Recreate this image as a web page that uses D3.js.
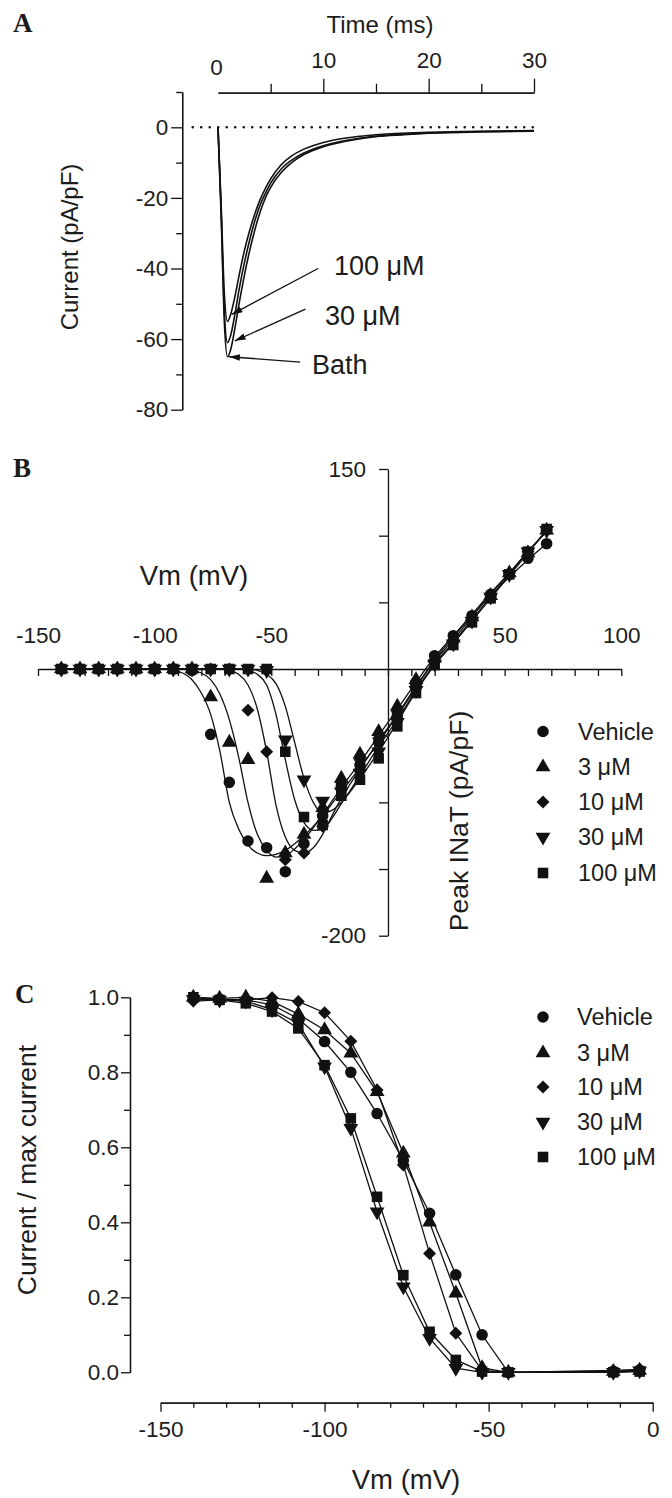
<!DOCTYPE html>
<html><head><meta charset="utf-8">
<script src="https://cdn.jsdelivr.net/npm/d3@7"></script>
<style>
body{margin:0;background:#fff}
</style>
</head><body>
<svg id="chart" width="672" height="1498"></svg>
<script>
// ---------------- DATA ----------------
// Panel A: current traces (time in ms, current in pA/pF)
const aTime   = [0,0.3,0.6,0.9,1.2,1.6,2,2.5,3,3.5,4,4.5,5,6,7,8,9,10,12,14,16,18,20,22,25,28,30];
const aBath   = [0,-25,-55,-65,-63,-57,-50,-42,-35,-29,-24,-20,-17,-12.8,-10,-8,-6.6,-5.5,-4,-3,-2.4,-2,-1.7,-1.5,-1.3,-1.2,-1.1];
const a30uM   = [0,-24,-52,-61,-59,-53,-46,-38.5,-32,-26.5,-22,-18.7,-15.8,-11.8,-9.3,-7.5,-6.2,-5.2,-3.8,-2.9,-2.3,-1.9,-1.6,-1.4,-1.2,-1.1,-1];
const a100uM  = [0,-22,-47,-55,-53,-48,-42,-35,-29.3,-24.5,-20.5,-17.3,-14.6,-10.6,-8.1,-6.4,-5.2,-4.3,-3.1,-2.4,-1.9,-1.6,-1.4,-1.3,-1.1,-1,-0.9];
const aLabels = ["100 μM","30 μM","Bath"];
const aArrowTip = [[1.3,-53],[1.6,-60.5],[1.05,-65]];   // time, current
const aArrowTail = [[9.5,-40],[8.3,-51.5],[7.8,-66.5]];
const aXTicks = [0,10,20,30];
const aXMinor = [5,15,25];
const aYTicks = [0,-20,-40,-60,-80];
const aYMinor = [10,-10,-30,-50,-70];

// Panel B: I-V relation
const seriesNames = ["Vehicle","3 μM","10 μM","30 μM","100 μM"];
const bVm = [-140,-132,-124,-116,-108,-100,-92,-84,-76,-68,-60,-52,-44,-36,-28,-20,-12,-4,4,12,20,28,36,44,52,60,68];
const bVehicle = [0,0,0,0,0,0,0,-1,-49,-85,-129,-134,-152,-131,-110,-88,-72,-55,-35,-10,10,25,40,56,71,83,94];
const b3uM     = [0,0,0,0,0,0,0,0,-21,-55,-68,-157,-138,-124,-104,-82,-64,-47,-28,-8,8,23,39,55,72,87,104];
const b10uM    = [0,0,0,0,0,0,0,0,0,0,-31,-62,-143,-138,-118,-85,-68,-52,-32,-12,6,21,38,55,72,88,104];
const b30uM    = [0,0,0,0,0,0,0,0,0,0,0,-1,-53,-83,-99,-92,-78,-62,-40,-16,4,19,36,54,71,88,104];
const b100uM   = [0,0,0,0,0,0,0,0,0,0,0,0,-62,-111,-117,-95,-83,-67,-43,-18,3,18,35,53,71,88,105];
// fitted curves of panel B
const bFitVm = [-140,-96,-92,-88,-84,-80,-76,-72,-68,-64,-60,-56,-52,-48,-44,-40,-36,-32,-28,-24,-20,-12,-4,4,12,20,28,36,44,52,60,68];
const bFitVehicle = [0,0,-1,-3,-8,-18,-34,-62,-100,-120,-132,-138,-140,-139,-136,-131,-125,-118,-110,-101,-92,-74,-55,-35,-14,7,24,40,55,69,82,94];
const bFit3uM     = [0,0,0,0,-1,-3,-8,-19,-38,-66,-100,-124,-136,-141,-140,-135,-128,-119,-109,-99,-89,-70,-50,-30,-10,9,25,41,57,72,88,103];
const bFit10uM    = [0,0,0,0,0,0,0,0,-1,-4,-12,-30,-62,-102,-126,-136,-138,-134,-124,-110,-97,-75,-54,-34,-13,6,22,39,56,72,88,103];
const bFit30uM    = [0,0,0,0,0,0,0,0,0,0,0,-1,-4,-11,-28,-55,-82,-100,-108,-106,-100,-82,-62,-40,-17,3,19,36,53,70,87,104];
const bFit100uM   = [0,0,0,0,0,0,0,0,0,0,-1,-4,-12,-34,-68,-98,-115,-121,-120,-112,-101,-80,-58,-38,-16,4,20,37,54,71,88,104];
const bXTicks = [-150,-140,-130,-120,-110,-100,-90,-80,-70,-60,-50,-40,-30,-20,-10,0,10,20,30,40,50,60,70,80,90,100];
const bXLabels = [-150,-100,-50,50,100];
const bYTicks = [150,100,50,-50,-100,-150,-200];
const bYLabels = [150,-200];

// Panel C: availability
const cVm = [-140,-132,-124,-116,-108,-100,-92,-84,-76,-68,-60,-52,-44,-12,-4];
const cVehicle = [1.0,0.995,0.993,0.98,0.943,0.882,0.80,0.69,0.565,0.424,0.26,0.10,0.0,0.003,0.006];
const c3uM     = [1.0,0.997,1.0,0.989,0.955,0.913,0.851,0.748,0.584,0.40,0.211,0.012,0.0,0.002,0.005];
const c10uM    = [0.99,0.993,0.993,0.999,0.989,0.959,0.883,0.753,0.553,0.317,0.104,0.005,0.0,0.005,0.008];
const c30uM    = [0.995,0.993,0.99,0.967,0.93,0.815,0.651,0.428,0.228,0.091,0.011,0.0,0.0,0.0,0.004];
const c100uM   = [1.0,0.993,0.984,0.962,0.917,0.819,0.677,0.468,0.259,0.108,0.033,0.002,0.0,0.0,0.002];
const cXTicks = [-150,-100,-50,0];
const cXMinor = [-140,-130,-120,-110,-90,-80,-70,-60,-40,-30,-20,-10];
const cYTicks = [0,0.2,0.4,0.6,0.8,1.0];
const cYMinor = [0.1,0.3,0.5,0.7,0.9];

// ---------------- HELPERS ----------------
const SANS = '"Liberation Sans",Arial,Helvetica,sans-serif';
const SERIF = '"Liberation Serif","Times New Roman",Times,serif';
const INK = "#111";
const TXT = "#1c1c1c";
const shapes = ["circle","triangle","diamond","triangleDown","square"];
function symPath(shape){
  if(shape==="circle") return d3.symbol(d3.symbolCircle,105)();
  if(shape==="triangle"||shape==="triangleDown") return d3.symbol(d3.symbolTriangle,95)();
  if(shape==="diamond") return d3.symbol(d3.symbolSquare,84)();
  return d3.symbol(d3.symbolSquare,112)();
}
function symRot(shape){ return shape==="diamond"?45:(shape==="triangleDown"?180:0); }
function marker(g,shape,x,y){
  g.append("path").attr("d",symPath(shape))
   .attr("transform",`translate(${x},${y}) rotate(${symRot(shape)})`)
   .attr("fill",INK);
}
function styleAxis(g,size){
  g.attr("font-size",size).style("font-family",SANS);
  g.selectAll("path.domain").attr("stroke",INK).attr("stroke-width",1.3);
  g.selectAll(".tick line").attr("stroke",INK).attr("stroke-width",1.3);
  g.selectAll(".tick text").attr("fill",TXT).style("font-family",SANS);
}
function label(g,x,y,size,t,opts={}){
  const el = g.append("text").attr("x",x).attr("y",y).attr("font-size",size)
    .style("font-family",opts.serif?SERIF:SANS).attr("fill",TXT).text(t);
  if(opts.anchor) el.attr("text-anchor",opts.anchor);
  if(opts.bold) el.attr("font-weight","bold");
  if(opts.central) el.attr("dominant-baseline","central");
  return el;
}
function vlabel(g,x,y,size,t){
  return g.append("text").attr("transform",`translate(${x},${y}) rotate(-90)`).attr("text-anchor","middle")
    .attr("dominant-baseline","central").attr("font-size",size).style("font-family",SANS).attr("fill",TXT).text(t);
}
const fmt = d => String(d);
const TICKFS = 22.5;

const svg = d3.select("#chart");
svg.append("rect").attr("width",672).attr("height",1498).attr("fill","#fff");

// ---------------- PANEL A ----------------
const xA = d3.scaleLinear().domain([0,30]).range([218,534]);
const yA = d3.scaleLinear().domain([-80,10]).range([409.7,92]);
const gA = svg.append("g");
const aYAxisX = xA(-3.4);
styleAxis(gA.append("g").attr("transform",`translate(${aYAxisX},0)`)
  .call(d3.axisLeft(yA).tickValues(aYMinor).tickSize(6).tickFormat("").tickSizeOuter(0)),TICKFS);
styleAxis(gA.append("g").attr("transform",`translate(${aYAxisX},0)`)
  .call(d3.axisLeft(yA).tickValues(aYTicks).tickSize(11).tickPadding(3).tickFormat(fmt).tickSizeOuter(0)),TICKFS);
const aTop = yA(10)+0.7;
styleAxis(gA.append("g").attr("transform",`translate(0,${aTop})`)
  .call(d3.axisTop(xA).tickValues(aXMinor).tickSize(9).tickFormat("").tickSizeOuter(0)),TICKFS);
const aMaj = gA.append("g").attr("transform",`translate(0,${aTop})`)
  .call(d3.axisTop(xA).tickValues(aXTicks).tickSize(14).tickPadding(11).tickFormat(fmt).tickSizeOuter(0));
styleAxis(aMaj,TICKFS);
aMaj.selectAll(".tick").filter(d=>d===0).select("line").remove();
aMaj.selectAll(".tick").filter(d=>d===0).select("text").attr("y",-18).attr("x",-2);

label(gA,380,33,24,"Time (ms)",{anchor:"middle"});
vlabel(gA,69,247,24,"Current (pA/pF)");
label(gA,13,32,27,"A",{serif:true,bold:true});

// zero dotted line
gA.append("line").attr("x1",xA(-2.4)).attr("x2",xA(30)).attr("y1",yA(0)).attr("y2",yA(0))
  .attr("stroke",INK).attr("stroke-width",2.6).attr("stroke-dasharray","0 8.5").attr("stroke-linecap","round");

const lineA = d3.line().x((d,i)=>xA(aTime[i])).y(d=>yA(d)).curve(d3.curveMonotoneX);
[aBath,a30uM,a100uM].forEach(arr=>{
  gA.append("path").attr("d",lineA(arr)).attr("fill","none").attr("stroke",INK).attr("stroke-width",1.6);
});
// arrows
svg.append("defs").append("marker").attr("id","ah").attr("viewBox","0 0 10 6").attr("refX",10).attr("refY",3)
  .attr("markerWidth",11).attr("markerHeight",6.5).attr("markerUnits","userSpaceOnUse").attr("orient","auto")
  .append("path").attr("d","M0,0 L10,3 L0,6 Z").attr("fill",INK);
aArrowTip.forEach((tip,i)=>{
  const tail = aArrowTail[i];
  gA.append("line").attr("x1",xA(tail[0])).attr("y1",yA(tail[1])).attr("x2",xA(tip[0])).attr("y2",yA(tip[1]))
    .attr("stroke",INK).attr("stroke-width",1.3).attr("marker-end","url(#ah)");
});
const aLabelPos = [[334,275],[325,325],[312,374]];
aLabels.forEach((t,i)=> label(gA,aLabelPos[i][0],aLabelPos[i][1],27,t));

// ---------------- PANEL B ----------------
const xB = d3.scaleLinear().domain([-150,100]).range([38,621.3]);
const yB = d3.scaleLinear().domain([-200,150]).range([935.7,469]);
const gB = svg.append("g");
styleAxis(gB.append("g").attr("transform",`translate(0,${yB(0)})`)
  .call(d3.axisBottom(xB).tickValues(bXTicks).tickSize(7).tickFormat("").tickSizeOuter(0)),TICKFS);
const bxl = gB.append("g").attr("transform",`translate(0,${yB(0)})`)
  .call(d3.axisTop(xB).tickValues(bXLabels).tickSize(0).tickPadding(26).tickFormat(fmt));
styleAxis(bxl,TICKFS); bxl.select("path.domain").remove();
styleAxis(gB.append("g").attr("transform",`translate(${xB(0)},0)`)
  .call(d3.axisLeft(yB).tickValues(bYTicks).tickSize(9).tickPadding(13)
  .tickFormat(d=>bYLabels.includes(d)?String(d):"").tickSizeOuter(0)),TICKFS);

label(gB,194,585,27.5,"Vm (mV)",{anchor:"middle"});
vlabel(gB,459,821,26.5,"Peak INaT (pA/pF)");
label(gB,13,477,27,"B",{serif:true,bold:true});

const fitsB = [bFitVehicle,bFit3uM,bFit10uM,bFit30uM,bFit100uM];
const dataB = [bVehicle,b3uM,b10uM,b30uM,b100uM];
const lineB = d3.line().x((d,i)=>xB(bFitVm[i])).y(d=>yB(d)).curve(d3.curveMonotoneX);
fitsB.forEach(arr=>{
  gB.append("path").attr("d",lineB(arr)).attr("fill","none").attr("stroke",INK).attr("stroke-width",1.3);
});
dataB.forEach((arr,s)=>{
  arr.forEach((v,i)=>marker(gB,shapes[s],xB(bVm[i]),yB(v)));
});
const legendB = [731.5,767,802,837,873];
seriesNames.forEach((n,i)=>{
  marker(gB,shapes[i],543,legendB[i]);
  label(gB,578,legendB[i],23.5,n,{central:true});
});

// ---------------- PANEL C ----------------
const xC = d3.scaleLinear().domain([-150,0]).range([160.5,652.7]);
const yC = d3.scaleLinear().domain([0,1]).range([1372.3,997.3]);
const gC = svg.append("g");
const cAxisY = 1402.7, cAxisX = 130;
styleAxis(gC.append("g").attr("transform",`translate(0,${cAxisY})`)
  .call(d3.axisBottom(xC).tickValues(cXMinor).tickSize(5).tickFormat("").tickSizeOuter(0)),TICKFS);
styleAxis(gC.append("g").attr("transform",`translate(0,${cAxisY})`)
  .call(d3.axisBottom(xC).tickValues(cXTicks).tickSize(9).tickPadding(9).tickFormat(fmt).tickSizeOuter(0)),TICKFS);
styleAxis(gC.append("g").attr("transform",`translate(${cAxisX},0)`)
  .call(d3.axisLeft(yC).tickValues(cYMinor).tickSize(6).tickFormat("").tickSizeOuter(0)),TICKFS);
styleAxis(gC.append("g").attr("transform",`translate(${cAxisX},0)`)
  .call(d3.axisLeft(yC).tickValues(cYTicks).tickSize(9).tickPadding(2).tickFormat(d3.format(".1f")).tickSizeOuter(0)),TICKFS);

label(gC,406,1489,27.5,"Vm (mV)",{anchor:"middle"});
vlabel(gC,27,1170,26.5,"Current / max current");
label(gC,15,1003,27,"C",{serif:true,bold:true});

const dataC = [cVehicle,c3uM,c10uM,c30uM,c100uM];
const lineC = d3.line().x((d,i)=>xC(cVm[i])).y(d=>yC(d));
dataC.forEach(arr=>{
  gC.append("path").attr("d",lineC(arr)).attr("fill","none").attr("stroke",INK).attr("stroke-width",1.3);
});
dataC.forEach((arr,s)=>{
  arr.forEach((v,i)=>marker(gC,shapes[s],xC(cVm[i]),yC(v)));
});
const legendC = [1017,1053,1087,1122,1157];
seriesNames.forEach((n,i)=>{
  marker(gC,shapes[i],543,legendC[i]);
  label(gC,577,legendC[i],23.5,n,{central:true});
});
</script>
</body></html>
